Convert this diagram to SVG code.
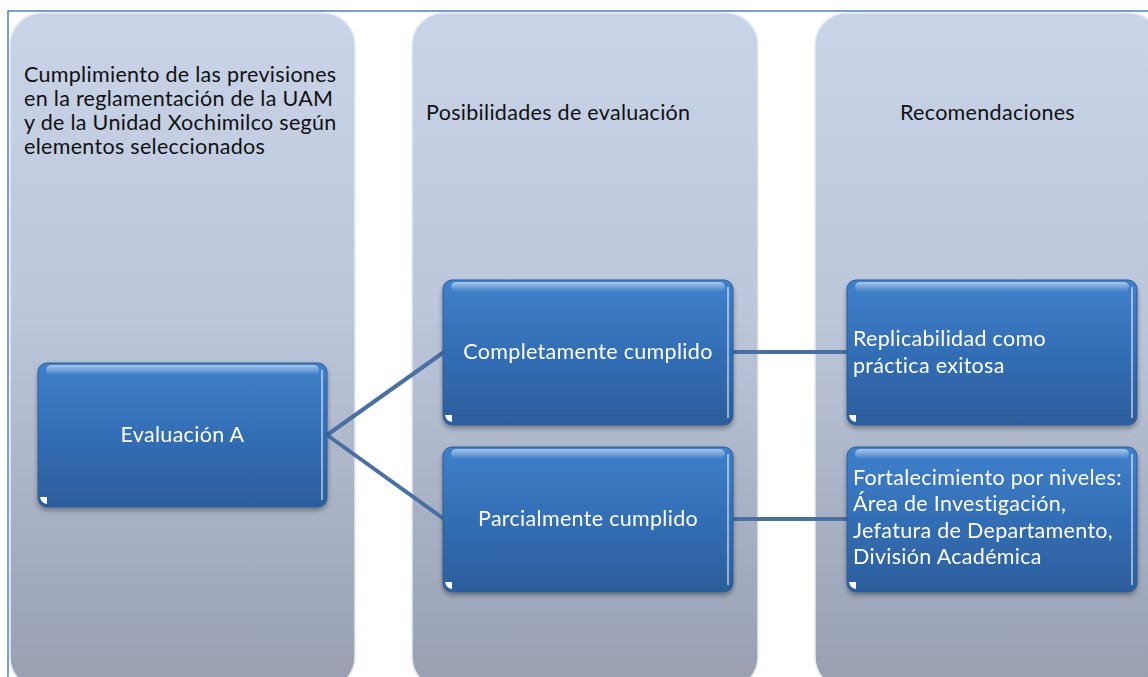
<svg xmlns="http://www.w3.org/2000/svg" width="1148" height="677" viewBox="0 0 1148 677">
<defs>
<linearGradient id="colG" x1="0" y1="0" x2="0" y2="1">
<stop offset="0" stop-color="#c9d4e8"/>
<stop offset="0.45" stop-color="#bcc6da"/>
<stop offset="1" stop-color="#979fb1"/>
</linearGradient>
<linearGradient id="nodeG" x1="0" y1="0" x2="0" y2="1">
<stop offset="0" stop-color="#3f80cc"/>
<stop offset="0.5" stop-color="#336eb5"/>
<stop offset="1" stop-color="#2c5e9c"/>
</linearGradient>
<linearGradient id="hiG" x1="0" y1="0" x2="0" y2="1">
<stop offset="0" stop-color="#ffffff" stop-opacity="0.55"/>
<stop offset="1" stop-color="#ffffff" stop-opacity="0"/>
</linearGradient>
<filter id="sh" x="-10%" y="-10%" width="120%" height="130%">
<feGaussianBlur in="SourceAlpha" stdDeviation="2.5"/>
<feOffset dx="0" dy="3" result="b"/>
<feComponentTransfer><feFuncA type="linear" slope="0.35"/></feComponentTransfer>
<feMerge><feMergeNode/><feMergeNode in="SourceGraphic"/></feMerge>
</filter>
</defs>
<style>
.col{fill:url(#colG);stroke:#e6ebf3;stroke-width:1.5}
.node{fill:url(#nodeG);stroke:#2d5c96;stroke-width:1}
.hi{fill:url(#hiG)}
.edge{stroke:#ffffff;stroke-opacity:0.5;stroke-width:2;fill:none}
.tri{fill:#ffffff}
.h{font-family:Lato,"Open Sans",sans-serif;font-size:21.5px;letter-spacing:0.3px;fill:#111111}
.t{font-family:Lato,"Open Sans",sans-serif;font-size:21.5px;letter-spacing:0.3px;fill:#ffffff}
.conn{stroke:#4a6fa3;stroke-width:4;fill:none}
</style>
<rect width="1148" height="677" fill="#ffffff"/>
<g id="col1">
<rect class="col" x="10" y="13" width="345" height="676" rx="32"/>
<text class="h" x="24" y="82">Cumplimiento de las previsiones</text>
<text class="h" x="24" y="106">en la reglamentación de la UAM</text>
<text class="h" x="24" y="130">y de la Unidad Xochimilco según</text>
<text class="h" x="24" y="154">elementos seleccionados</text>
</g>
<g id="col2">
<rect class="col" x="412" y="13" width="346" height="676" rx="32"/>
<text class="h" x="426" y="120">Posibilidades de evaluación</text>
</g>
<g id="col3">
<rect class="col" x="815" y="13" width="346" height="676" rx="32"/>
<text class="h" x="987.5" y="120" text-anchor="middle">Recomendaciones</text>
</g>
<path d="M8,677 V11 H1148" fill="none" stroke="#4f81bd" stroke-width="1.5"/>
<g id="connectors">
<line class="conn" x1="327" y1="435" x2="444" y2="352"/>
<line class="conn" x1="327" y1="435" x2="444" y2="519"/>
<line class="conn" x1="732" y1="352" x2="848" y2="352"/>
<line class="conn" x1="732" y1="519" x2="848" y2="519"/>
</g>
<g id="n_evalA" filter="url(#sh)">
<rect class="node" x="38" y="363" width="289" height="144" rx="9"/>
<rect class="hi" x="46" y="365" width="273" height="10" rx="5"/>
<path class="edge" d="M322,370 V500"/>
<path class="tri" d="M40,497 L47,497 L47,504 Q41,503 40,497 Z"/>
<text class="t" x="182.5" y="442" text-anchor="middle">Evaluación A</text>
</g>
<g id="n_completo" filter="url(#sh)">
<rect class="node" x="443" y="280" width="290" height="145" rx="9"/>
<rect class="hi" x="451" y="282" width="274" height="10" rx="5"/>
<path class="edge" d="M728,287 V418"/>
<path class="tri" d="M445,415 L452,415 L452,422 Q446,421 445,415 Z"/>
<text class="t" x="588" y="359" text-anchor="middle">Completamente cumplido</text>
</g>
<g id="n_parcial" filter="url(#sh)">
<rect class="node" x="443" y="447" width="290" height="145" rx="9"/>
<rect class="hi" x="451" y="449" width="274" height="10" rx="5"/>
<path class="edge" d="M728,454 V585"/>
<path class="tri" d="M445,582 L452,582 L452,589 Q446,588 445,582 Z"/>
<text class="t" x="588" y="526" text-anchor="middle">Parcialmente cumplido</text>
</g>
<g id="n_replica" filter="url(#sh)">
<rect class="node" x="847" y="280" width="290" height="145" rx="9"/>
<rect class="hi" x="855" y="282" width="274" height="10" rx="5"/>
<path class="edge" d="M1132,287 V418"/>
<path class="tri" d="M849,415 L856,415 L856,422 Q850,421 849,415 Z"/>
<text class="t" x="853" y="346">Replicabilidad como</text>
<text class="t" x="853" y="373">práctica exitosa</text>
</g>
<g id="n_fortal" filter="url(#sh)">
<rect class="node" x="847" y="447" width="290" height="145" rx="9"/>
<rect class="hi" x="855" y="449" width="274" height="10" rx="5"/>
<path class="edge" d="M1132,454 V585"/>
<path class="tri" d="M849,582 L856,582 L856,589 Q850,588 849,582 Z"/>
<text class="t" x="853" y="485">Fortalecimiento por niveles:</text>
<text class="t" x="853" y="511">Área de Investigación,</text>
<text class="t" x="853" y="538">Jefatura de Departamento,</text>
<text class="t" x="853" y="564">División Académica</text>
</g>
</svg>
